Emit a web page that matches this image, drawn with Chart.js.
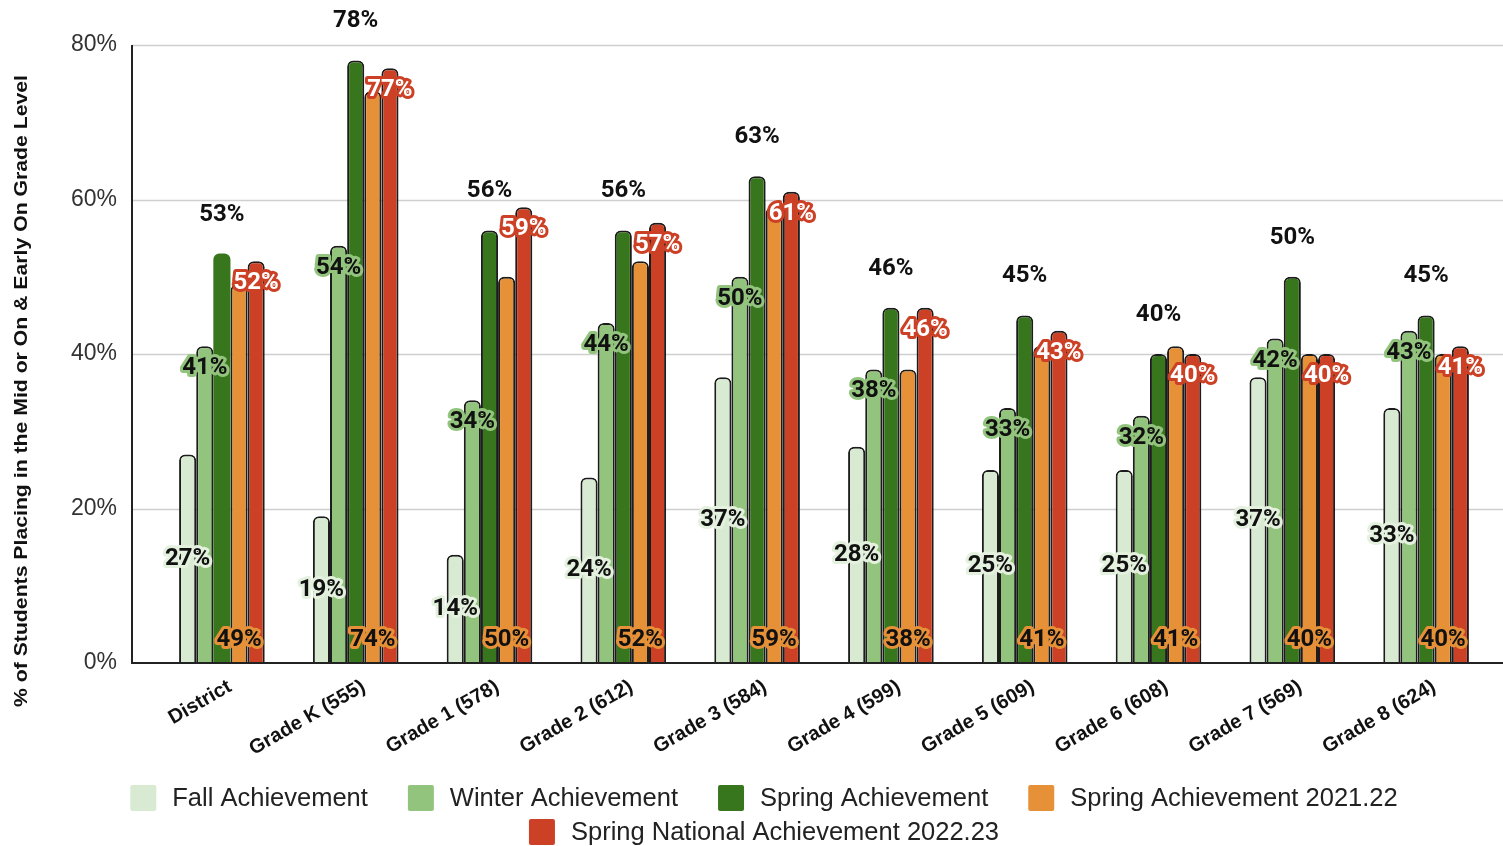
<!DOCTYPE html>
<html>
<head>
<meta charset="utf-8">
<script src="https://cdn.jsdelivr.net/npm/chart.js@4/dist/chart.umd.min.js"></script>
<style>
html,body{margin:0;padding:0;background:#fff;}
#wrap{width:1503px;height:846px;}
</style>
</head>
<body>
<div id="wrap"><canvas id="c" width="1503" height="846"></canvas></div>
<script>
const categories = ["District","Grade K (555)","Grade 1 (578)","Grade 2 (612)","Grade 3 (584)","Grade 4 (599)","Grade 5 (609)","Grade 6 (608)","Grade 7 (569)","Grade 8 (624)"];
const fallAchievement   = [27,19,14,24,37,28,25,25,37,33];
const winterAchievement = [41,54,34,44,50,38,33,32,42,43];
const springAchievement = [53,78,56,56,63,46,45,40,50,45];
const spring2122        = [49,74,50,52,59,38,41,41,40,40];
const springNational    = [52,77,59,57,61,46,43,40,40,41];
const seriesNames = ["Fall Achievement","Winter Achievement","Spring Achievement","Spring Achievement 2021.22","Spring National Achievement 2022.23"];
const yTicks = [0,20,40,60,80];
const yTitle = "% of Students Placing in the Mid or On & Early On Grade Level";

const colors = ["#d9ead3","#93c47d","#38761d","#e69138","#cc4125"];
const BORDER = "#1c1c1c";
const radius = {topLeft:6, topRight:6, bottomLeft:0, bottomRight:0};

function ds(i, data, extra){
  return Object.assign({
    label: seriesNames[i], data: data,
    backgroundColor: colors[i], borderColor: BORDER, borderWidth: 2,
    borderRadius: radius, borderSkipped: 'bottom',
    categoryPercentage: 0.64, barPercentage: 1.0
  }, extra||{});
}

const labelStyle = [
  {mode:'center', color:'#111', halo:'#e4f1de'},
  {mode:'insideTop', color:'#111', halo:'#93c47d'},
  {mode:'above', color:'#111', halo:null},
  {mode:'base', color:'#111', halo:'#e69138'},
  {mode:'insideTop', color:'#ffffff', halo:'#cc4125'}
];

const framePlugin = {
  id:'frame',
  beforeDatasetsDraw(chart){
    const {ctx, chartArea, scales} = chart;
    const y = scales.y;
    const left = chartArea.left - 23, right = chart.width;
    ctx.save();
    ctx.strokeStyle = '#cfcfcf'; ctx.lineWidth = 1.5;
    yTicks.forEach(v=>{
      if(v===0) return;
      const py = Math.round(y.getPixelForValue(v))+0.5;
      ctx.beginPath(); ctx.moveTo(left, py); ctx.lineTo(right, py); ctx.stroke();
    });
    ctx.restore();
  },
  afterDatasetsDraw(chart){
    const {ctx, chartArea, scales} = chart;
    const y = scales.y;
    const left = chartArea.left - 23, right = chart.width;
    ctx.save();
    ctx.strokeStyle = '#222'; ctx.lineWidth = 2;
    const py0 = y.getPixelForValue(0);
    ctx.beginPath(); ctx.moveTo(left, py0); ctx.lineTo(right, py0); ctx.stroke();
    ctx.beginPath(); ctx.moveTo(left, y.getPixelForValue(80)); ctx.lineTo(left, py0+1); ctx.stroke();
    ctx.restore();

    ctx.save();
    ctx.font = 'bold 24px Roboto, "Liberation Sans", Arial, sans-serif';
    ctx.textAlign = 'center'; ctx.textBaseline = 'middle';
    ctx.lineJoin = 'round';
    chart.data.datasets.forEach((d, di)=>{
      const meta = chart.getDatasetMeta(di);
      const st = labelStyle[di];
      meta.data.forEach((bar, i)=>{
        const txt = d.data[i] + '%';
        let ly;
        if(st.mode==='center') ly = (bar.y + bar.base)/2;
        else if(st.mode==='insideTop') ly = bar.y + 22;
        else if(st.mode==='above') ly = bar.y - 39;
        else ly = bar.base - 23;
        if(st.halo){
          ctx.strokeStyle = st.halo; ctx.lineWidth = 6;
          ctx.strokeText(txt, bar.x, ly);
        }
        ctx.fillStyle = st.color;
        ctx.fillText(txt, bar.x, ly);
      });
    });
    ctx.restore();
  },
  afterDraw(chart){
    const {ctx} = chart;
    ctx.save();
    ctx.translate(22, 391);
    ctx.rotate(-Math.PI/2);
    ctx.font = 'bold 18px "Liberation Sans", Arial, sans-serif';
    const tw = ctx.measureText(yTitle).width;
    ctx.scale(632/tw, 1);
    ctx.fillStyle = '#111';
    ctx.textAlign = 'center'; ctx.textBaseline = 'middle';
    ctx.fillText(yTitle, 0, 0);
    ctx.restore();

    ctx.save();
    ctx.font = '25.5px "Liberation Sans", Arial, sans-serif';
    ctx.textBaseline = 'middle'; ctx.textAlign = 'left';
    const box = 26, gapText = 16, gapItem = 40, maxW = 1320, cx = 764;
    const items = chart.data.datasets.map((d, i)=>({text:d.label, color:d.backgroundColor, w: box+gapText+ctx.measureText(d.label).width}));
    const rows = [[]]; let rw = 0;
    items.forEach(it=>{
      const add = (rows[rows.length-1].length? gapItem:0) + it.w;
      if(rw + add > maxW && rows[rows.length-1].length){ rows.push([it]); rw = it.w; }
      else { rows[rows.length-1].push(it); rw += add; }
    });
    const rowY = [798, 832];
    rows.forEach((row, r)=>{
      const total = row.reduce((s,it,k)=>s+it.w+(k?gapItem:0),0);
      let x = cx - total/2;
      const yy = rowY[r] !== undefined ? rowY[r] : 832 + (r-1)*34;
      row.forEach(it=>{
        ctx.fillStyle = it.color;
        ctx.beginPath();
        if(ctx.roundRect) ctx.roundRect(x, yy-box/2, box, box, 2); else ctx.rect(x, yy-box/2, box, box);
        ctx.fill();
        ctx.fillStyle = '#222';
        ctx.fillText(it.text, x+box+gapText, yy+1);
        x += it.w + gapItem;
      });
    });
    ctx.restore();
  }
};

new Chart(document.getElementById('c'), {
  type:'bar',
  data:{
    labels: categories,
    datasets:[
      ds(0, fallAchievement),
      ds(1, winterAchievement),
      ds(2, springAchievement, {borderWidth:[0,2,2,2,2,2,2,2,2,2]}),
      ds(3, spring2122),
      ds(4, springNational)
    ]
  },
  options:{
    responsive:false,
    animation:false,
    devicePixelRatio:1,
    layout:{padding:{top:45, right:10, left:0, bottom:0}},
    plugins:{legend:{display:false}, tooltip:{enabled:false}, title:{display:false}},
    scales:{
      x:{
        grid:{display:false, drawTicks:false},
        border:{display:false},
        ticks:{
          color:'#111', minRotation:30, maxRotation:30, padding:12, autoSkip:false, labelOffset:8,
          font:{family:'"Liberation Sans", Arial, sans-serif', size:20, weight:'bold'}
        },
        afterFit(s){ s.height = 183; s.paddingLeft = 0; s.paddingRight = 0; }
      },
      y:{
        min:0, max:80,
        grid:{display:false, drawTicks:false},
        border:{display:false},
        afterBuildTicks(s){ s.ticks = yTicks.map(v=>({value:v})); },
        ticks:{
          color:'#333', padding:38,
          font:{family:'"Liberation Sans", Arial, sans-serif', size:23},
          callback:v=>v+'%'
        },
        afterFit(s){ s.width = 155; s.paddingTop = 0; s.paddingBottom = 0; }
      }
    }
  },
  plugins:[framePlugin]
});
</script>
</body>
</html>
